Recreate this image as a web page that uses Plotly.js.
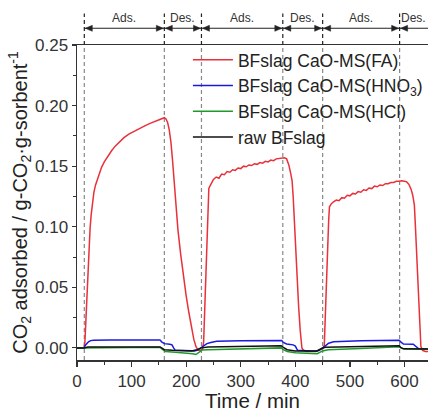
<!DOCTYPE html>
<html>
<head>
<meta charset="utf-8">
<script src="https://cdn.plot.ly/plotly-3.0.1.min.js"></script>
<style>html,body{margin:0;padding:0;background:#fff;}#chart{width:428px;height:412px;}</style>
</head>
<body>
<div id="chart"></div>
<script>
// ---- data ----
var seriesNames = ['BFslag CaO-MS(FA)', 'BFslag CaO-MS(HNO<sub>3</sub>)', 'BFslag CaO-MS(HCl)', 'raw BFslag'];

var tFA = [0, 13, 14.5, 16, 18, 20, 22, 24, 26, 28, 31, 34, 37, 41, 45, 50, 56, 63, 70, 78, 86, 95, 105, 115, 125, 135, 145, 155, 160,
  163, 166, 169, 172, 175, 178, 181, 185, 190, 195, 200, 205, 210, 214, 218, 222, 226, 230,
  232, 234, 236, 238, 240, 241.5, 244, 247, 250, 255, 260, 265, 270, 275, 280, 285, 290, 295, 300, 305, 310, 315, 320, 325, 330, 335, 340, 345, 350, 355, 360, 365, 370, 375, 380, 384, 388, 391, 394, 396, 398, 400, 403, 406, 409, 412, 415, 420, 430, 438, 442, 447, 451,
  453, 455, 457, 459, 461, 462.5, 466, 470, 475, 480, 485, 490, 495, 500, 505, 510, 515, 520, 525, 530, 535, 540, 545, 550, 555, 560, 565, 570, 575, 580, 585, 590, 595, 600, 604, 608, 612, 615, 618, 620, 622, 624, 626, 628, 630, 633, 638, 643];
var yFA = [0, 0, 0.005, 0.022, 0.045, 0.067, 0.085, 0.099, 0.110, 0.119, 0.1285, 0.1345, 0.139, 0.1445, 0.149, 0.1535, 0.158, 0.1625, 0.1665, 0.170, 0.1735, 0.1765, 0.179, 0.1815, 0.1835, 0.1855, 0.1875, 0.1893, 0.190,
  0.189, 0.186, 0.180, 0.170, 0.155, 0.135, 0.115, 0.097, 0.077, 0.059, 0.043, 0.029, 0.016, 0.007, 0.001, -0.002, -0.002, -0.001,
  0.005, 0.035, 0.065, 0.095, 0.122, 0.1316, 0.134, 0.137, 0.139, 0.141, 0.140, 0.1435, 0.143, 0.1455, 0.145, 0.147, 0.1465, 0.1485, 0.148, 0.150, 0.1495, 0.151, 0.1505, 0.152, 0.1515, 0.153, 0.1525, 0.154, 0.1535, 0.155, 0.1545, 0.156, 0.1565, 0.157, 0.157, 0.156, 0.151, 0.145, 0.138, 0.125, 0.105, 0.085, 0.058, 0.034, 0.014, 0.000, -0.002, -0.003, -0.003, -0.003, -0.002, -0.001, 0.000,
  0.002, 0.030, 0.060, 0.085, 0.105, 0.1165, 0.119, 0.1206, 0.122, 0.1215, 0.124, 0.1235, 0.126, 0.1255, 0.1275, 0.127, 0.129, 0.1285, 0.1305, 0.130, 0.132, 0.1315, 0.1335, 0.133, 0.1345, 0.134, 0.1355, 0.1355, 0.1365, 0.1365, 0.1375, 0.1375, 0.138, 0.1375, 0.137, 0.135, 0.131, 0.126, 0.118, 0.100, 0.078, 0.055, 0.032, 0.012, 0.001, -0.002, -0.003, -0.003];

var tHNO3 = [0, 13, 15, 18, 21, 25, 30, 60, 100, 152, 155, 160, 170, 174, 177, 180, 210, 215, 220, 226, 232, 238, 245, 256, 300, 375, 378, 384, 396, 400, 404, 436, 444, 451, 456, 461, 470, 520, 590, 593, 598, 616, 621, 626, 643];
var yHNO3 = [0, 0, 0.002, 0.004, 0.005, 0.006, 0.0063, 0.0065, 0.0065, 0.0066, 0.005, 0.0035, 0.003, 0.0025, 0.0, -0.002, -0.0023, -0.0025, -0.002, 0.0, 0.002, 0.0035, 0.0045, 0.0055, 0.0058, 0.006, 0.0045, 0.0032, 0.0025, 0.0015, -0.002, -0.0028, -0.002, 0.0, 0.002, 0.0038, 0.005, 0.0058, 0.0063, 0.005, 0.0032, 0.003, 0.001, -0.0008, -0.001];

var tHCl = [0, 13, 20, 152, 156, 162, 180, 200, 212, 218, 223, 229, 240, 300, 374, 378, 385, 400, 430, 440, 450, 460, 520, 590, 594, 600, 643];
var yHCl = [0, 0, 0.0006, 0.0006, -0.001, -0.003, -0.0035, -0.004, -0.0048, -0.0055, -0.0035, -0.0018, -0.0015, -0.0008, 0.0, -0.0015, -0.003, -0.004, -0.005, -0.0048, -0.0025, -0.0015, -0.0005, 0.001, -0.0002, -0.0009, -0.0012];

var tRaw = [0, 13, 20, 152, 155, 160, 175, 210, 220, 228, 240, 300, 374, 378, 385, 400, 440, 448, 455, 500, 590, 593, 598, 643];
var yRaw = [0, 0, 0.0008, 0.0008, 0, -0.0015, -0.002, -0.0025, -0.0015, 0, 0.0008, 0.0012, 0.0018, 0.0005, -0.0015, -0.0025, -0.0025, -0.0005, 0.0005, 0.001, 0.0018, 0.0005, -0.0008, -0.001];

var seriesColors = ['#e8313a', '#1a1adb', '#1f9a2a', '#111111'];

var phaseBounds = [13.4, 160, 228, 377, 450, 591];
var phaseEnds = [160, 228, 377, 450, 591, 680];
var phaseLabels = ['Ads.', 'Des.', 'Ads.', 'Des.', 'Ads.', 'Des.'];
var phaseLabelX = [86.7, 194, 302.5, 413.5, 520.5, 617];

var xTicks = [0, 100, 200, 300, 400, 500, 600];
var yTicks = [0.00, 0.05, 0.10, 0.15, 0.20, 0.25];

// ---- build ----
var xs = [tFA, tHNO3, tHCl, tRaw];
var ys = [yFA, yHNO3, yHCl, yRaw];
var traces = xs.map(function (x, i) {
  return {
    x: x, y: ys[i], type: 'scatter', mode: 'lines', name: seriesNames[i],
    line: {color: seriesColors[i], width: 1.5}, legendgroup: 'g' + i
  };
});

var font = 'Liberation Sans, Arial, sans-serif';
var arrowY = 1.053;
var shapes = [];
var annotations = [];
phaseBounds.forEach(function (b) {
  shapes.push({type: 'line', xref: 'x', yref: 'y', x0: b, x1: b, y0: -0.01, y1: 0.25,
    line: {color: '#888888', width: 1.2, dash: '4px,3px'}, layer: 'below'});
  shapes.push({type: 'line', xref: 'x', yref: 'paper', x0: b, x1: b, y0: 1, y1: 1.10,
    line: {color: '#222222', width: 1.2, dash: '4px,3px'}});
});
phaseLabels.forEach(function (lab, i) {
  // arrow shaft
  shapes.push({type: 'line', xref: 'x', yref: 'paper', x0: phaseBounds[i], x1: phaseEnds[i], y0: arrowY, y1: arrowY,
    line: {color: '#222', width: 1.1}});
  // left arrowhead (pointing left, at start)
  shapes.push({type: 'path', xref: 'x', yref: 'paper', xsizemode: 'pixel', ysizemode: 'pixel',
    xanchor: phaseBounds[i], yanchor: arrowY, path: 'M1,0 L8,3 L8,-3 Z',
    fillcolor: '#222', line: {color: '#222', width: 0.5}});
  // right arrowhead (pointing right, at end)
  shapes.push({type: 'path', xref: 'x', yref: 'paper', xsizemode: 'pixel', ysizemode: 'pixel',
    xanchor: phaseEnds[i], yanchor: arrowY, path: 'M-1,0 L-8,3 L-8,-3 Z',
    fillcolor: '#222', line: {color: '#222', width: 0.5}});
  annotations.push({xref: 'x', yref: 'paper', x: phaseLabelX[i], y: 1.086, text: lab, showarrow: false,
    font: {family: font, size: 12, color: '#333'}, xanchor: 'center', yanchor: 'middle'});
});

var layout = {
  width: 428, height: 412,
  margin: {l: 77, r: 0, t: 45, b: 52, pad: 0},
  paper_bgcolor: '#fff', plot_bgcolor: '#fff',
  showlegend: true,
  legend: {x: 0.316, y: 1.01, xanchor: 'left', yanchor: 'top', bgcolor: 'rgba(0,0,0,0)',
    font: {family: font, size: 17.5, color: '#222'}, tracegroupgap: 0, itemwidth: 40},
  xaxis: {range: [0, 643], tickvals: xTicks, ticks: 'outside', ticklen: 5, tickwidth: 1.2, tickcolor: '#333',
    minor: {dtick: 50, tick0: 0, ticks: 'outside', ticklen: 3, tickwidth: 1, tickcolor: '#333'},
    showline: true, linecolor: '#333', linewidth: 1.5, mirror: true, showgrid: false, zeroline: false,
    tickfont: {family: font, size: 17, color: '#333'},
    title: {text: 'Time / min', font: {family: font, size: 20.5, color: '#222'}, standoff: 6}},
  yaxis: {range: [-0.01, 0.25], tickvals: yTicks, tickformat: '.2f', ticks: 'outside', ticklen: 4, tickwidth: 1.2, tickcolor: '#333',
    minor: {dtick: 0.025, tick0: 0, ticks: 'outside', ticklen: 3, tickwidth: 1, tickcolor: '#333'},
    showline: true, linecolor: '#333', linewidth: 1.5, mirror: true, showgrid: false, zeroline: false,
    tickfont: {family: font, size: 17, color: '#333'},
    title: {text: 'CO<sub>2</sub> adsorbed / g-CO<sub>2</sub>·g-sorbent<sup>-1</sup>', font: {family: font, size: 20, color: '#222'}, standoff: 2}},
  shapes: shapes,
  annotations: annotations
};

Plotly.newPlot('chart', traces, layout, {displayModeBar: false, staticPlot: true});
</script>
</body>
</html>
